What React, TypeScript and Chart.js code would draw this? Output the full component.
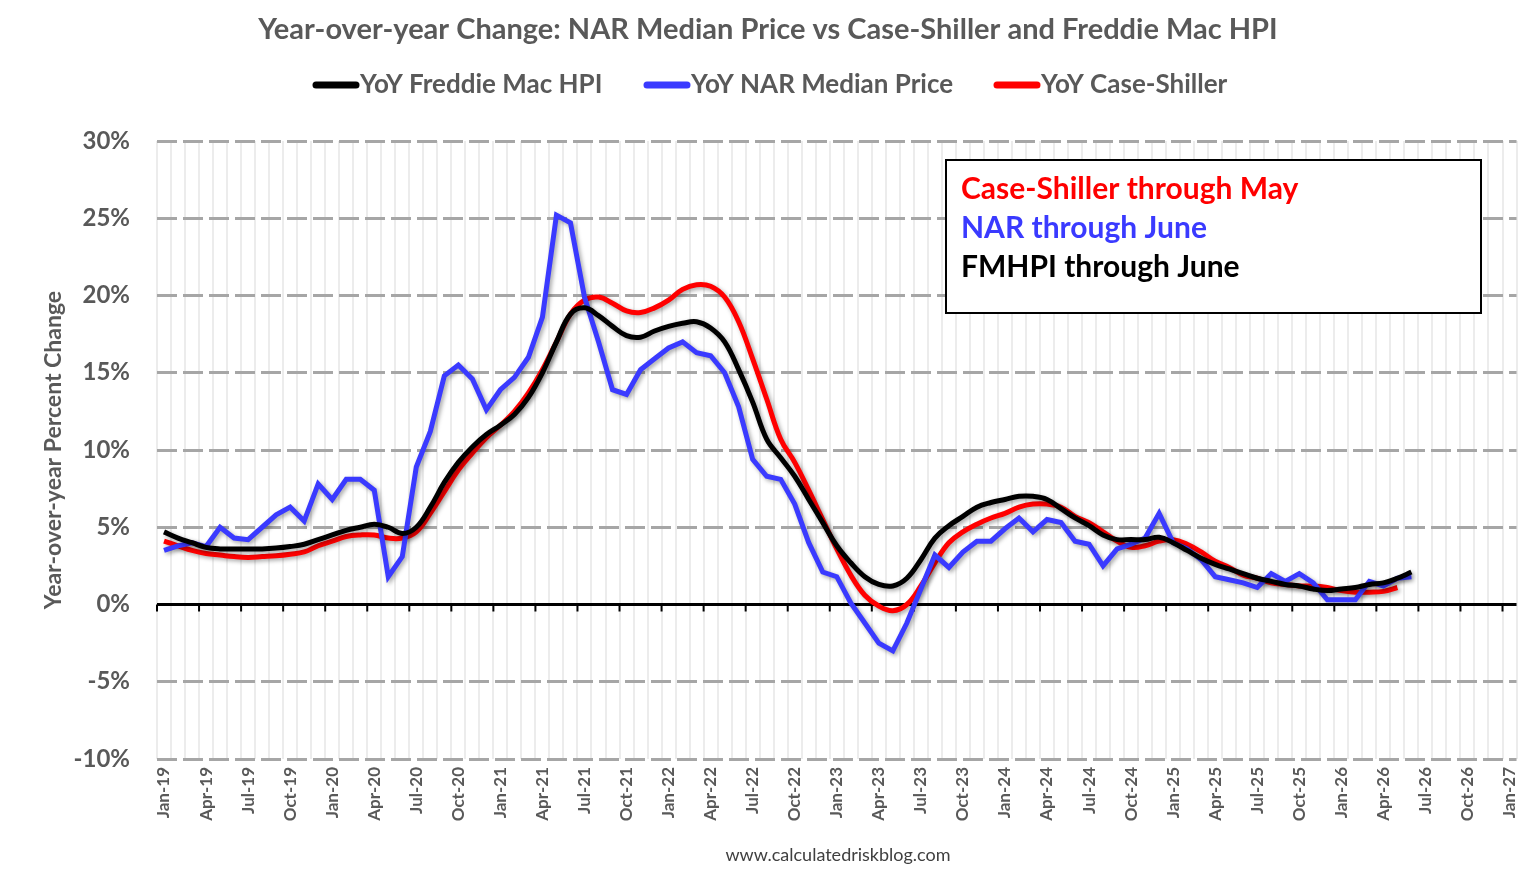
import React, { useEffect, useRef } from "react";
import { Chart, registerables } from "chart.js";
Chart.register(...registerables);

const MONTHS = ["Jan","Feb","Mar","Apr","May","Jun","Jul","Aug","Sep","Oct","Nov","Dec"];
const monthLabels: string[] = [];
for (let y = 19; y <= 26; y++) for (const m of MONTHS) monthLabels.push(`${m}-${y}`);
monthLabels.push("Jan-27");

const freddie = [
  4.7,4.3,4.0,3.7,3.6,3.6,3.6,3.6,3.65,3.75,3.9,4.2,4.5,4.8,5.0,5.2,5.0,4.6,5.0,6.3,7.9,9.2,10.2,11.0,
  11.6,12.3,13.4,15.0,17.0,18.8,19.2,18.7,18.0,17.4,17.3,17.7,18.0,18.2,18.3,17.9,17.0,15.2,13.1,10.7,9.5,8.3,6.8,5.3,
  3.8,2.7,1.8,1.3,1.2,1.7,2.9,4.3,5.1,5.7,6.3,6.6,6.8,7.0,7.0,6.8,6.2,5.6,5.1,4.5,4.2,4.2,4.2,4.35,
  4.0,3.5,3.0,2.6,2.3,2.0,1.7,1.5,1.3,1.2,1.0,0.9,1.0,1.1,1.3,1.4,1.7,2.1
];
const nar = [
  3.5,3.8,4.0,3.75,5.0,4.3,4.2,5.0,5.8,6.3,5.4,7.8,6.8,8.1,8.1,7.4,1.8,3.1,8.9,11.2,14.8,15.5,14.6,12.6,
  13.9,14.7,16.0,18.6,25.2,24.7,19.9,17.0,13.9,13.6,15.2,15.9,16.6,17.0,16.3,16.1,15.0,12.8,9.4,8.3,8.1,6.5,4.0,2.1,
  1.8,0.1,-1.2,-2.5,-3.0,-1.2,1.0,3.2,2.4,3.4,4.1,4.1,4.9,5.6,4.7,5.5,5.3,4.1,3.9,2.5,3.6,3.9,4.3,5.9,
  4.0,3.6,2.9,1.8,1.6,1.4,1.1,2.0,1.5,2.0,1.4,0.3,0.3,0.3,1.5,1.2,1.7,1.8
];
const caseShiller = [
  4.1,3.8,3.5,3.3,3.2,3.1,3.05,3.1,3.15,3.25,3.4,3.8,4.1,4.4,4.5,4.5,4.3,4.3,4.7,5.9,7.3,8.7,9.8,10.8,
  11.6,12.5,13.7,15.2,17.0,18.8,19.7,19.9,19.5,19.0,18.9,19.2,19.7,20.4,20.7,20.6,19.9,18.3,15.9,13.3,10.7,9.2,7.4,5.5,
  3.6,1.9,0.6,-0.1,-0.4,0.0,1.2,2.7,4.0,4.7,5.2,5.6,5.9,6.3,6.5,6.5,6.3,5.7,5.3,4.7,4.1,3.7,3.8,4.1,
  4.2,3.9,3.4,2.8,2.4,1.9,1.7,1.4,1.3,1.2,1.2,1.1,0.9,0.8,0.8,0.85,1.1
];
const yTicks = [-10, -5, 0, 5, 10, 15, 20, 25, 30];
const seriesNames = ["YoY Freddie Mac HPI", "YoY NAR Median Price", "YoY Case-Shiller"];
const seriesColors = ["#000000", "#3a3aff", "#ff0000"];
const noteLines = [
  { text: "Case-Shiller through May", color: "#ff0000" },
  { text: "NAR through June", color: "#3a3aff" },
  { text: "FMHPI through June", color: "#000000" },
];
const TITLE = "Year-over-year Change: NAR Median Price vs Case-Shiller and Freddie Mac HPI";
const FONT = "Lato, 'Open Sans', sans-serif";
const GRAY = "#595959";
const legendX = [316, 647, 997];

export default function App() {
  const ref = useRef<HTMLCanvasElement>(null);
  useEffect(() => {
    const overlay = {
      id: "overlay",
      beforeDatasetsDraw(chart: any) {
        const { ctx, chartArea, scales } = chart;
        const y0 = scales.y.getPixelForValue(0);
        ctx.save();
        ctx.strokeStyle = "#000";
        ctx.lineWidth = 3;
        ctx.beginPath();
        ctx.moveTo(chartArea.left, y0);
        ctx.lineTo(chartArea.right, y0);
        ctx.stroke();
        ctx.lineWidth = 2;
        const step = scales.x.getPixelForValue(1) - scales.x.getPixelForValue(0);
        for (let i = 0; i < monthLabels.length; i += 3) {
          const x = scales.x.getPixelForValue(i) - step / 2;
          ctx.beginPath();
          ctx.moveTo(x, y0);
          ctx.lineTo(x, y0 + 7);
          ctx.stroke();
        }
        ctx.restore();
      },
      beforeDatasetDraw(chart: any) {
        const ctx = chart.ctx;
        ctx.save();
        ctx.shadowColor = "rgba(0,0,0,0.35)";
        ctx.shadowBlur = 4;
        ctx.shadowOffsetX = 2;
        ctx.shadowOffsetY = 2;
      },
      afterDatasetDraw(chart: any) {
        chart.ctx.restore();
      },
      afterDraw(chart: any) {
        const ctx = chart.ctx;
        ctx.save();
        ctx.font = `bold 29px ${FONT}`;
        ctx.fillStyle = GRAY;
        ctx.textAlign = "center";
        ctx.textBaseline = "middle";
        ctx.fillText(TITLE, 768, 30);
        ctx.font = `bold 26px ${FONT}`;
        ctx.textAlign = "left";
        seriesNames.forEach((n, i) => {
          const x = legendX[i];
          ctx.strokeStyle = seriesColors[i];
          ctx.lineWidth = 7;
          ctx.lineCap = "round";
          ctx.beginPath();
          ctx.moveTo(x, 85);
          ctx.lineTo(x + 40, 85);
          ctx.stroke();
          ctx.fillStyle = GRAY;
          ctx.fillText(n, x + 44, 85);
        });
        ctx.fillStyle = "#fff";
        ctx.fillRect(946, 160, 535, 153);
        ctx.strokeStyle = "#000";
        ctx.lineWidth = 2;
        ctx.strokeRect(946, 160, 535, 153);
        ctx.font = `bold 30px ${FONT}`;
        noteLines.forEach((l, i) => {
          ctx.fillStyle = l.color;
          ctx.fillText(l.text, 961, 189 + i * 39);
        });
        ctx.font = `18px ${FONT}`;
        ctx.fillStyle = "#404040";
        ctx.textAlign = "center";
        ctx.fillText("www.calculatedriskblog.com", 838, 855);
        ctx.restore();
      },
    };
    const chart = new Chart(ref.current!, {
      type: "line",
      data: {
        labels: monthLabels,
        datasets: [freddie, nar, caseShiller].map((d, i) => ({
          label: seriesNames[i], data: d, borderColor: seriesColors[i], backgroundColor: seriesColors[i],
          borderWidth: 5, pointRadius: 0, tension: i === 1 ? 0 : 0.4, fill: false,
        })),
      },
      options: {
        animation: false,
        responsive: false,
        maintainAspectRatio: false,
        layout: { padding: { left: 36, right: 16, top: 141, bottom: 0 } },
        plugins: {
          title: { display: false },
          legend: { display: false },
          tooltip: { enabled: false },
        },
        scales: {
          x: {
            offset: true,
            grid: { offset: true, color: "#ececec", lineWidth: 2, drawTicks: false },
            border: { display: false },
            ticks: {
              autoSkip: false,
              maxRotation: 90,
              minRotation: 90,
              padding: 8,
              color: GRAY,
              font: { family: FONT, size: 17, weight: "bold" },
              callback: (v: any, i: number) => (i % 3 === 0 ? monthLabels[i] : ""),
            },
            afterFit: (s: any) => { s.height = 115; },
          },
          y: {
            min: -10,
            max: 30,
            afterBuildTicks: (s: any) => { s.ticks = yTicks.map((v) => ({ value: v })); },
            grid: {
              color: (c: any) => (c.tick && c.tick.value === 0 ? "rgba(0,0,0,0)" : "#a6a6a6"),
              lineWidth: 3,
              drawTicks: false,
            },
            border: { display: false, dash: [20, 6] },
            ticks: {
              padding: 27,
              color: GRAY,
              font: { family: FONT, size: 24, weight: "bold" },
              callback: (v: any) => `${v}%`,
            },
            title: {
              display: true,
              text: "Year-over-year Percent Change",
              color: GRAY,
              font: { family: FONT, size: 23, weight: "bold" },
            },
            afterFit: (s: any) => { s.width = 121; },
          },
        },
      },
      plugins: [overlay],
    });
    return () => chart.destroy();
  }, []);
  return (
    <div style={{ position: "fixed", left: 0, top: 0, width: 1538, height: 874, background: "#fff" }}>
      <canvas ref={ref} width={1538} height={874} style={{ width: 1538, height: 874 }} />
    </div>
  );
}
